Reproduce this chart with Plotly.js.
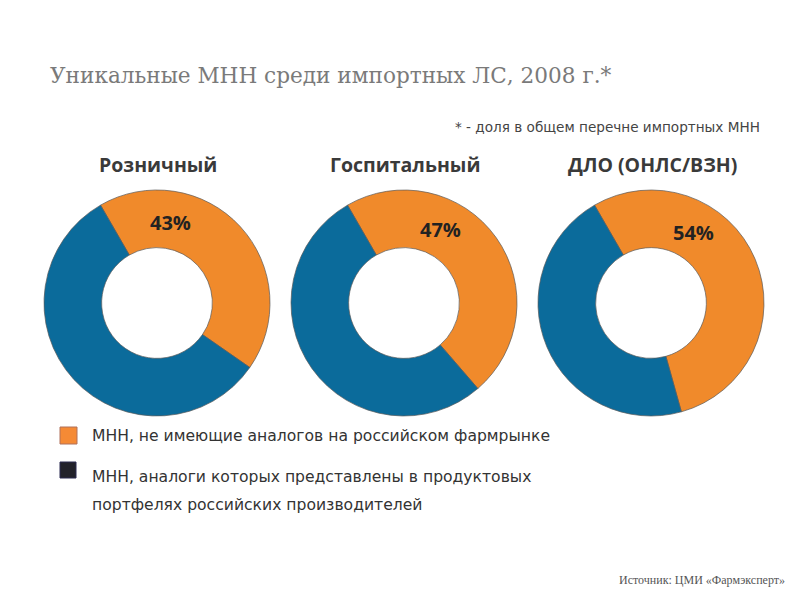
<!DOCTYPE html>
<html>
<head>
<meta charset="utf-8">
<script src="https://cdn.plot.ly/plotly-3.0.1.min.js"></script>
<style>html,body{margin:0;padding:0;background:#fff}#chart{width:800px;height:600px}</style>
</head>
<body>
<div id="chart"></div>
<script>
// ---- data ----
const categories = ['Розничный', 'Госпитальный', 'ДЛО (ОНЛС/ВЗН)'];
const noAnalogShare = [43, 47, 54];      // % МНН без аналогов
const withAnalogShare = [57, 53, 46];    // % МНН с аналогами
const seriesLabels = [
  'МНН, не имеющие аналогов на российском фармрынке',
  'МНН, аналоги которых представлены в продуктовых<br>портфелях российских производителей'
];
const titleText = 'Уникальные МНН среди импортных ЛС, 2008 г.*';
const noteText = '* - доля в общем перечне импортных МНН';
const sourceText = 'Источник: ЦМИ «Фармэксперт»';

// ---- layout helpers ----
const W = 800, H = 600;
const colors = ['#F08A2B', '#0B6B9B'];
const centersX = [157, 404, 651];
const centerY = 303;
const R = 113;
const labelOffsets = [[13, -81], [36, -73], [42, -70]];
const px = x => x / W;
const py = y => 1 - y / H;

const traces = categories.map((cat, i) => ({
  type: 'pie',
  values: [noAnalogShare[i], withAnalogShare[i]],
  labels: seriesLabels.map(s => s.replace('<br>', ' ')),
  hole: 0.49,
  sort: false,
  direction: 'clockwise',
  rotation: -30,
  textinfo: 'none',
  hoverinfo: 'label+percent',
  marker: { colors: colors, line: { color: '#5a5a5a', width: 0.7 } },
  domain: { x: [px(centersX[i] - R), px(centersX[i] + R)], y: [py(centerY + R), py(centerY - R)] },
  showlegend: false
}));

const annotations = [];
annotations.push({ xref: 'paper', yref: 'paper', x: px(48), y: py(75), xanchor: 'left', yanchor: 'middle',
  text: titleText, showarrow: false, font: { family: 'DejaVu Serif', size: 21.6, color: '#7a7a7a' } });
annotations.push({ xref: 'paper', yref: 'paper', x: px(762), y: py(127), xanchor: 'right', yanchor: 'middle',
  text: noteText, showarrow: false, font: { family: 'DejaVu Sans', size: 13.6, color: '#444' } });
annotations.push({ xref: 'paper', yref: 'paper', x: px(787), y: py(580), xanchor: 'right', yanchor: 'middle',
  text: sourceText, showarrow: false, font: { family: 'Liberation Serif', size: 12, color: '#555' } });
categories.forEach((cat, i) => {
  annotations.push({ xref: 'paper', yref: 'paper', x: px(centersX[i] + 1), y: py(164), xanchor: 'center', yanchor: 'middle',
    text: '<b>' + cat + '</b>', showarrow: false, font: { family: 'Open Sans', size: 19.5, color: '#3a3a3a' } });
  annotations.push({ xref: 'paper', yref: 'paper', x: px(centersX[i] + labelOffsets[i][0]), y: py(centerY + labelOffsets[i][1]),
    xanchor: 'center', yanchor: 'middle', text: '<b>' + noAnalogShare[i] + '%</b>', showarrow: false,
    font: { family: 'Open Sans', size: 20, color: '#222' } });
});
const legendLineY = [[436], [477, 505]];
seriesLabels.forEach((lab, i) => {
  lab.split('<br>').forEach((line, j) => {
    annotations.push({ xref: 'paper', yref: 'paper', x: px(90), y: py(legendLineY[i][j]), xanchor: 'left', yanchor: 'middle',
      text: line, showarrow: false, align: 'left', font: { family: 'DejaVu Sans', size: 15.6, color: '#333' } });
  });
});

const shapes = [
  { type: 'rect', xref: 'paper', yref: 'paper', x0: px(60), x1: px(77), y0: py(444), y1: py(427),
    fillcolor: '#F58A35', line: { color: '#b0705a', width: 1 } },
  { type: 'rect', xref: 'paper', yref: 'paper', x0: px(60), x1: px(76), y0: py(478), y1: py(462),
    fillcolor: '#22222a', line: { color: '#2a2a50', width: 1 } }
];

Plotly.newPlot('chart', traces, {
  width: W, height: H,
  margin: { l: 0, r: 0, t: 0, b: 0 },
  paper_bgcolor: '#fff',
  annotations: annotations,
  shapes: shapes
}, { displayModeBar: false, staticPlot: true });
</script>
</body>
</html>
